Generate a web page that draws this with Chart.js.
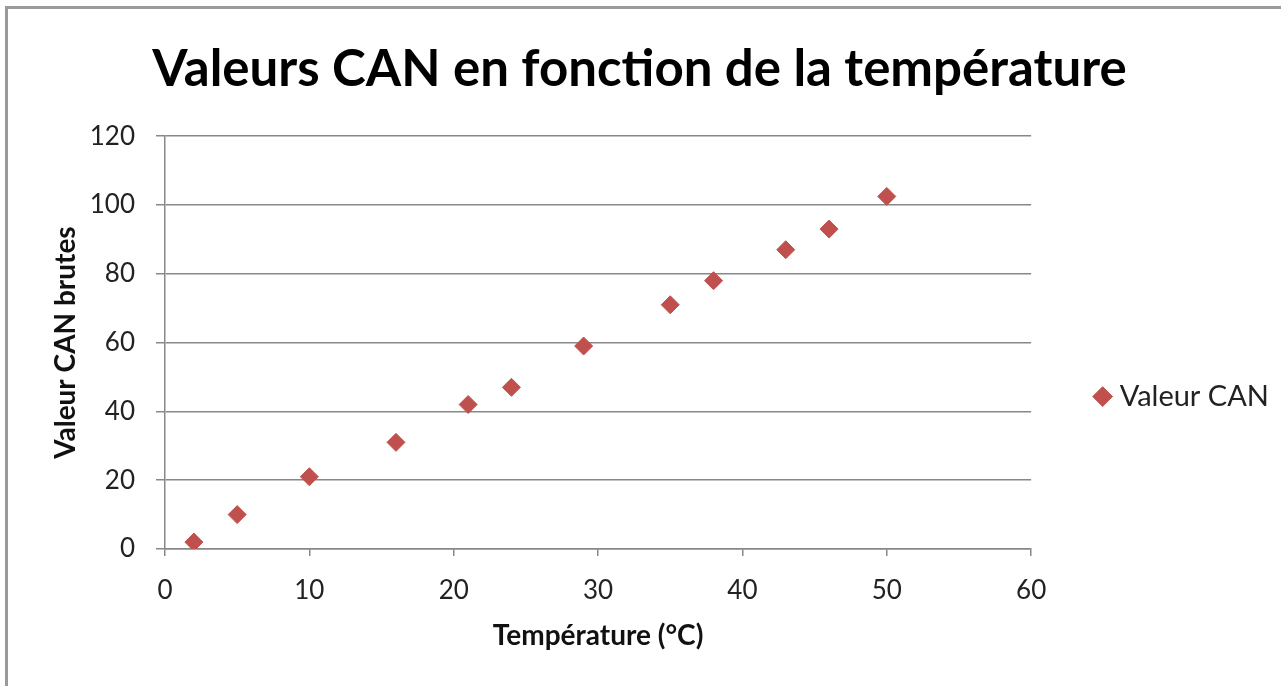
<!DOCTYPE html>
<html lang="fr">
<head>
<meta charset="utf-8">
<title>Valeurs CAN en fonction de la température</title>
<script src="https://cdn.jsdelivr.net/npm/chart.js@4.4.1/dist/chart.umd.min.js"></script>
<style>
  html, body { margin: 0; padding: 0; background: #fff; overflow: hidden; }
  #wrap { position: relative; width: 1281px; height: 686px; }
  #chart { position: absolute; left: 0; top: 0; }
  #frame {
    position: absolute; left: 5px; top: 6px; right: -10px; bottom: -10px;
    border-left: 3px solid #9a9a9a; border-top: 3px solid #9a9a9a;
    pointer-events: none;
  }
</style>
</head>
<body>
<div id="wrap">
  <canvas id="chart" width="1281" height="686"></canvas>
  <div id="frame"></div>
</div>
<script>
const temperatures = [2, 5, 10, 16, 21, 24, 29, 35, 38, 43, 46, 50]
const valeursCAN = [2, 10, 21, 31, 42, 47, 59, 71, 78, 87, 93, 102.5]

// graduations des axes
const xTicks = [0, 10, 20, 30, 40, 50, 60]
const yTicks = [0, 20, 40, 60, 80, 100, 120]

const FONT = 'Lato, "Noto Sans", sans-serif'
const gridColor = '#888888'
const markerColor = '#C0504D'

const points = temperatures.map((t, i) => ({ x: t, y: valeursCAN[i] }))

new Chart(document.getElementById('chart'), {
  type: 'scatter',
  data: {
    datasets: [{
      label: 'Valeur CAN',
      data: points,
      pointStyle: 'rectRot',
      pointRadius: 9,
      pointHoverRadius: 9,
      backgroundColor: markerColor,
      borderColor: markerColor,
      borderWidth: 1
    }]
  },
  options: {
    responsive: false,
    animation: false,
    events: [],
    layout: { padding: { left: 0, right: 2, top: 0, bottom: 0 } },
    plugins: {
      tooltip: { enabled: false },
      title: {
        display: true,
        text: 'Valeurs CAN en fonction de la température',
        color: '#000',
        font: { family: FONT, size: 51, weight: 'bold' },
        padding: { top: 39, bottom: 36 }
      },
      legend: {
        position: 'right',
        fullSize: false,
        // titre vide : sert uniquement à descendre l'entrée de légende
        title: { display: true, text: '', font: { size: 10 }, padding: { top: 96, bottom: 0 } },
        labels: {
          usePointStyle: true,
          boxWidth: 5,
          boxHeight: 14,
          padding: 69,
          color: '#222',
          font: { family: FONT, size: 29 }
        }
      }
    },
    scales: {
      x: {
        type: 'linear',
        min: 0,
        max: 60,
        afterBuildTicks: axis => { axis.ticks = xTicks.map(v => ({ value: v })) },
        afterFit: axis => { axis.height = 137 },
        ticks: { color: '#222', font: { family: FONT, size: 26 }, padding: 19 },
        grid: { drawOnChartArea: false, color: gridColor, lineWidth: 1.5, tickLength: 7 },
        border: { color: gridColor, width: 1.5 },
        title: {
          display: true,
          text: 'Température (°C)',
          color: '#111',
          font: { family: FONT, size: 28, weight: 'bold' },
          padding: { top: 0, bottom: 33 }
        }
      },
      y: {
        type: 'linear',
        min: 0,
        max: 120,
        afterBuildTicks: axis => { axis.ticks = yTicks.map(v => ({ value: v })) },
        afterFit: axis => { axis.width = 165 },
        ticks: { color: '#222', font: { family: FONT, size: 26 }, padding: 21 },
        grid: { color: gridColor, lineWidth: 1.5, tickLength: 9 },
        border: { color: gridColor, width: 1.5 },
        title: {
          display: true,
          text: 'Valeur CAN brutes',
          color: '#111',
          font: { family: FONT, size: 28, weight: 'bold' },
          padding: { top: 49, bottom: 0 }
        }
      }
    }
  }
})
</script>
</body>
</html>
